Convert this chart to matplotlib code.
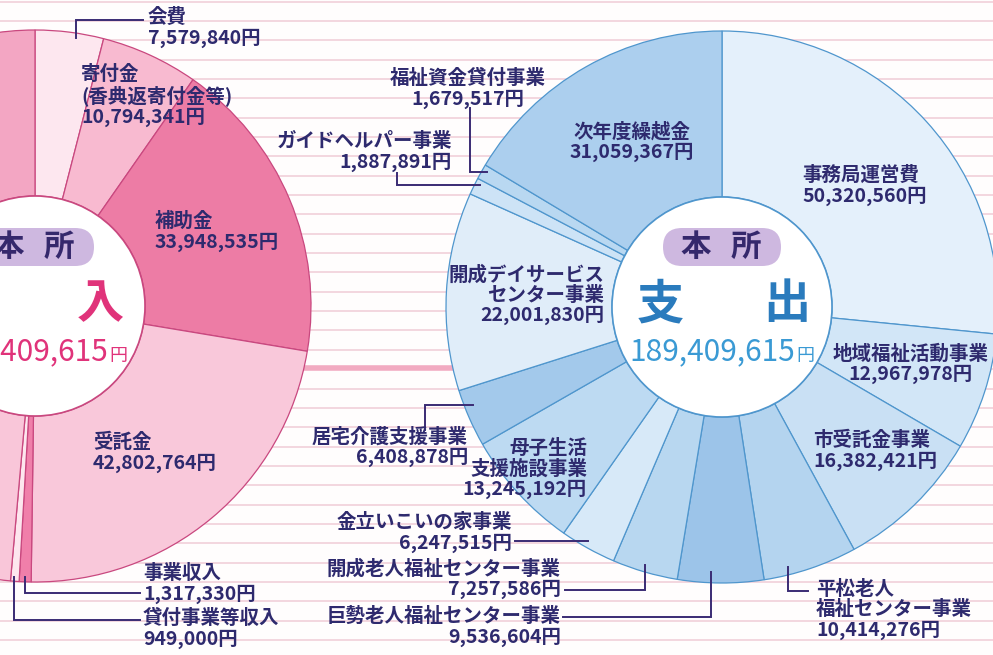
import matplotlib.pyplot as plt
from matplotlib.patches import Circle, FancyBboxPatch

plt.rcParams['font.family'] = ['Noto Sans CJK JP', 'DejaVu Sans']

W, H = 993, 655
total = 189409615

# 収入 (income), clockwise from 12 o'clock; the last two slices are off the left edge
inc_labels = ['会費', '寄付金\n(香典返寄付金等)', '補助金', '受託金', '事業収入', '貸付事業等収入', '', '']
inc_values = [7579840, 10794341, 33948535, 42802764, 1317330, 949000, 46500000, 45517805]
inc_colors = ['#fde7ef', '#f8bad0', '#ed7ca5', '#f9c8da', '#f07faa', '#fde6ee', '#f9c6d9', '#f3a6c3']

# 支出 (expenditure), clockwise from 12 o'clock
exp_labels = ['事務局運営費', '地域福祉活動事業', '市受託金事業', '平松老人\n福祉センター事業',
              '巨勢老人福祉センター事業', '開成老人福祉センター事業', '金立いこいの家事業',
              '母子生活\n支援施設事業', '居宅介護支援事業', '開成デイサービス\nセンター事業',
              'ガイドヘルパー事業', '福祉資金貸付事業', '次年度繰越金']
exp_values = [50320560, 12967978, 16382421, 10414276, 9536604, 7257586, 6247515,
              13245192, 6408878, 22001830, 1887891, 1679517, 31059367]
exp_colors = ['#e4f0fb', '#d2e6f7', '#c9e0f4', '#b4d4ef', '#9cc4e9', '#b8d7f0', '#d7e9f8',
              '#bddaf2', '#a3c9eb', '#e0edf9', '#cde3f6', '#b9d8f1', '#accfee']

# label placement in pixels: (x, y, ha)
inc_pos = [(148, 28, 'left'), (81, 96, 'left'), (155, 232, 'left'), (93, 453, 'left'),
           (143, 584, 'left'), (143, 629, 'left')]
exp_pos = [(802, 186, 'left'), (911, 364, 'center'), (813, 451, 'left'), (816, 610, 'left'),
           (561, 627, 'right'), (561, 579, 'right'), (512, 533, 'right'), (587, 469, 'right'),
           (468, 447, 'right'), (604, 295, 'right'), (452, 152, 'right'), (468, 89, 'center'),
           (632, 142, 'center')]

# leader lines (pixel polylines)
leaders = [
    [(76, 38), (76, 20), (143, 20)],
    [(25, 577), (25, 593), (140, 593)],
    [(14, 577), (14, 620), (140, 620)],
    [(470, 108), (470, 172), (487, 172)],
    [(397, 173), (397, 185), (480, 185)],
    [(473, 405), (425, 405), (425, 430)],
    [(515, 541), (588, 541)],
    [(565, 590), (645, 590), (645, 565)],
    [(563, 617), (711, 617), (711, 572)],
    [(788, 567), (788, 591), (808, 591)],
]


def Y(y):
    return H - y


fig = plt.figure(figsize=(W / 100, H / 100), dpi=100, facecolor='#fffdfd')
ax = fig.add_axes([0, 0, 1, 1])
ax.set_facecolor('#fffdfd')

# striped background
for k in range(35):
    ax.axhline(Y(1.5 + 19.35 * k), color='#f3d6df', lw=1.4, zorder=0)
ax.plot([250, 500], [Y(368), Y(368)], color='#f2aac1', lw=4, zorder=0.5)

# donuts
inc_c = (35, Y(306))
exp_c = (722, Y(307))
R, r = 276, 110
ax.pie(inc_values, colors=inc_colors, radius=R, center=inc_c, startangle=90,
       counterclock=False, wedgeprops=dict(width=R - r, edgecolor='#c9487f', linewidth=0.9))
ax.pie(exp_values, colors=exp_colors, radius=R, center=exp_c, startangle=90,
       counterclock=False, wedgeprops=dict(width=R - r, edgecolor='#4f96cd', linewidth=0.9))
ax.add_patch(Circle(inc_c, r, facecolor='white', edgecolor='#c9487f', lw=1.2, zorder=3))
ax.add_patch(Circle(exp_c, r, facecolor='white', edgecolor='#4f96cd', lw=1.2, zorder=3))

lab_col = '#2e2a6e'
for (x, y, ha), lab, v in zip(inc_pos, inc_labels, inc_values):
    ax.text(x, Y(y), f'{lab}\n{v:,}円', ha=ha, va='center', multialignment=ha,
            fontsize=14, fontweight='bold', color=lab_col, linespacing=1.08, zorder=6)
for (x, y, ha), lab, v in zip(exp_pos, exp_labels, exp_values):
    ax.text(x, Y(y), f'{lab}\n{v:,}円', ha=ha, va='center', multialignment=ha,
            fontsize=14, fontweight='bold', color=lab_col, linespacing=1.08, zorder=6)

for pts in leaders:
    ax.plot([p[0] for p in pts], [Y(p[1]) for p in pts], color='#3a2b74', lw=1.4,
            solid_joinstyle='miter', zorder=5)

# centre titles
for cx, word, col, num_col in [(35, ('収', '入'), '#e0337a', '#e0337a'),
                               (722, ('支', '出'), '#2a7bbd', '#3a9ad4')]:
    ax.add_patch(FancyBboxPatch((cx - 59, Y(266)), 118, 38,
                                boxstyle='round,pad=0,rounding_size=19',
                                facecolor='#ceb8e0', edgecolor='none', zorder=4))
    ax.text(cx - 26, Y(247), '本', ha='center', va='center', fontsize=22,
            color='#35286c', fontweight='bold', zorder=6)
    ax.text(cx + 24, Y(247), '所', ha='center', va='center', fontsize=22,
            color='#35286c', fontweight='bold', zorder=6)
    ax.text(cx - 62, Y(304), word[0], ha='center', va='center', fontsize=34,
            color=col, fontweight='bold', zorder=6)
    ax.text(cx + 65, Y(304), word[1], ha='center', va='center', fontsize=34,
            color=col, fontweight='bold', zorder=6)
    ax.text(cx + 73, Y(352), f'{total:,}', ha='right', va='center', fontsize=21.5,
            color=num_col, zorder=6)
    ax.text(cx + 74, Y(356), '円', ha='left', va='center', fontsize=13,
            color=num_col, zorder=6)

ax.set_xlim(0, W)
ax.set_ylim(0, H)
ax.set_aspect('equal')
ax.axis('off')

fig.savefig('out.png', dpi=100, facecolor=fig.get_facecolor())
